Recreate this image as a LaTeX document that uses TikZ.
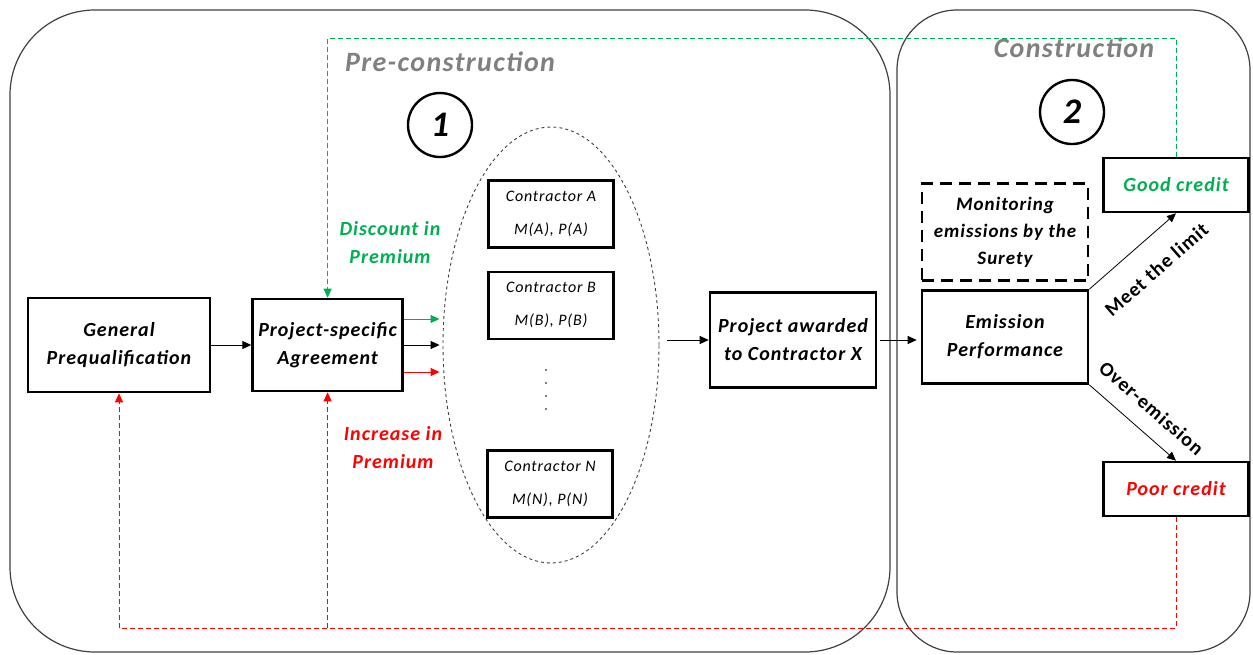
\documentclass[tikz,border=0pt]{standalone}
\usepackage{fontspec}
\setmainfont{Carlito}[LetterSpace=5]
\usetikzlibrary{arrows.meta,calc,positioning,shapes.geometric}
\definecolor{fbgreen}{HTML}{00B050}
\definecolor{fbred}{HTML}{FF0000}
\definecolor{phasegray}{HTML}{808080}
\definecolor{panelline}{HTML}{404040}

\begin{document}
\begin{tikzpicture}[x=1pt,y=-1pt,node distance=40pt,
    stagebox/.style={draw,line width=2.6pt,align=center,inner sep=2pt,font=\fontsize{20}{28}\selectfont\bfseries\itshape},
    bidbox/.style={draw,line width=2.4pt,align=center,inner sep=2pt,minimum width=125pt,minimum height=67pt,font=\fontsize{16}{19}\selectfont\itshape},
    creditbox/.style={draw,line width=2.6pt,minimum width=145pt,minimum height=54pt,font=\fontsize{20}{24}\selectfont\bfseries\itshape},
    phaselabel/.style={text=phasegray,font=\fontsize{28}{32}\selectfont\bfseries\itshape},
    phasenum/.style={draw,circle,line width=2.4pt,minimum size=64pt,inner sep=0pt,font=\fontsize{36}{38}\selectfont\bfseries\itshape},
    premium/.style={align=center,font=\fontsize{20}{28}\selectfont\bfseries\itshape},
    flow/.style={-{Triangle[length=9pt,width=8pt]},line width=1pt},
    feedback/.style={-{Triangle[length=9pt,width=8pt]},line width=1pt,dash pattern=on 5pt off 3pt},
    edgelabel/.style={sloped,inner sep=0pt,font=\fontsize{20}{24}\selectfont\bfseries}]
  \useasboundingbox (0,0) rectangle (1253,654);
  % the two phases
  \draw[panelline,line width=1.2pt,rounded corners=85pt] (10,10) rectangle (890,652);
  \draw[panelline,line width=1.2pt,rounded corners=60pt] (897,10) rectangle (1250,652);
  \node[phaselabel] (prelabel) at (450,62) {Pre-construction};
  \node[phaselabel] (conlabel) at (1074,48) {Construction};
  \node[phasenum] (one) at (440,125) {1};
  \node[phasenum] (two) at (1072,112) {2};

  % pre-construction
  \node[stagebox,minimum width=182pt,minimum height=94pt] (gp) at (119,345) {General\\Prequalification};
  \node[stagebox,minimum width=150pt,minimum height=92pt,right=of gp] (pa) {Project-specific\\Agreement};
  \node[draw,ellipse,dashed,line width=0.9pt,panelline,minimum width=216pt,minimum height=436pt] (bids) at (551,345) {};
  \node[bidbox] (ca) at (551,214) {Contractor A\\[14pt]M(A), P(A)};
  \node[bidbox,below=22pt of ca] (cb) {Contractor B\\[14pt]M(B), P(B)};
  \node[bidbox] (cn) at (550,484) {Contractor N\\[14pt]M(N), P(N)};
  \foreach \k in {0,...,3}
    \fill (546,370+13*\k) circle (0.9pt);
  \node[premium,text=fbgreen] (disc) at (390,243) {Discount in\\Premium};
  \node[premium,text=fbred] (incr) at (393,448) {Increase in\\Premium};
  \node[stagebox,minimum width=166pt,minimum height=95pt] (pax) at (793,340) {Project awarded\\to Contractor X};

  % construction
  \node[stagebox,minimum width=166pt,minimum height=93pt] (em) at (1005,337) {Emission\\Performance};
  \node[draw,line width=2.8pt,dash pattern=on 12pt off 7pt,align=center,inner sep=1pt,minimum width=166pt,minimum height=97pt,font=\fontsize{19}{27}\selectfont\bfseries\itshape,above=7pt of em] (mon) {Monitoring\\emissions by the\\Surety};
  \node[creditbox,text=fbgreen] (good) at (1176,185) {Good credit};
  \node[creditbox,text=fbred] (poor) at (1176,489) {Poor credit};

  % main flow
  \draw[flow] (gp) -- (pa);
  \draw[flow,fbgreen] ([yshift=26pt]pa.east) -- ([yshift=26pt,xshift=-3pt]bids.west);
  \draw[flow] (pa.east) -- ([xshift=-3pt]bids.west);
  \draw[flow,fbred] ([yshift=-27pt]pa.east) -- ([yshift=-27pt,xshift=-3pt]bids.west);
  \draw[flow,shorten <=8pt] (bids.east |- pax.west) -- (pax.west);
  \draw[flow,shorten <=3pt,shorten >=4pt] (pax.east) -- (em.west |- pax.east);
  \draw[flow,line width=0.8pt] (em.north east) -- node[edgelabel,below=22pt,pos=0.55] {Meet the limit} (good.south);
  \draw[flow,line width=0.8pt] (em.south east) -- node[edgelabel,above=16pt,pos=0.54] {Over-emission} (poor.north);

  % feedback to the surety
  \coordinate (topline) at (0,38);
  \coordinate (botline) at (0,628);
  \draw[feedback,fbgreen] (good.north) -- (good.north |- topline) -| (pa.north);
  \draw[feedback,fbred] (poor.south) -- (poor.south |- botline) -| (gp.south);
  \draw[feedback,fbred] (pa.south |- botline) -- (pa.south);
\end{tikzpicture}
\end{document}
